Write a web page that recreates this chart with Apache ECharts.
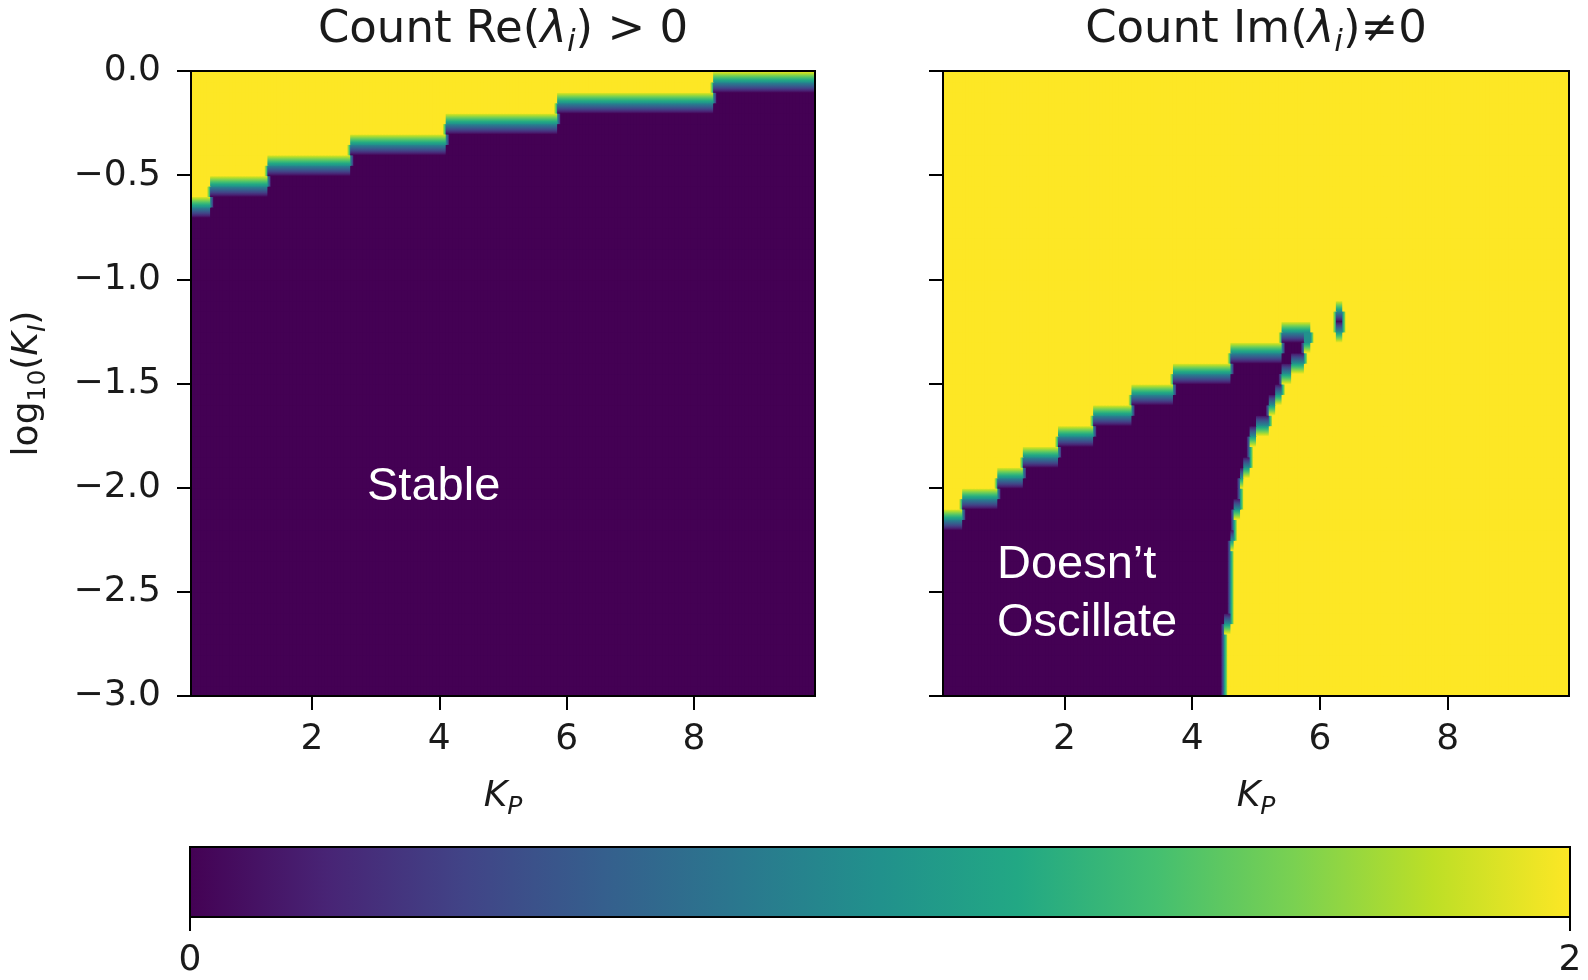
<!DOCTYPE html>
<html>
<head>
<meta charset="utf-8">
<title>Count Re / Im eigenvalues</title>
<script src="https://cdn.jsdelivr.net/npm/echarts@6/dist/echarts.min.js"></script>
<style>
  html, body { margin: 0; padding: 0; background: #fff; }
  #chart { width: 1588px; height: 980px; }
</style>
</head>
<body>
<div id="chart"></div>
<script>
// scan range and cell size (K_P, log10(K_I))
const kpRange = [0.1, 9.9];
const kiRange = [-3.0, 0.0];
const cellStep = 0.05;

// axis ticks
const kpTicks = [2, 4, 6, 8];
const kiTicks = [0, -0.5, -1, -1.5, -2, -2.5, -3];
const cbarTicks = [0, 2];

// left panel: Count Re(λi) > 0 -> 2 above the staircase, 0 below
const reKpEdges = [0.1, 0.4, 1.3, 2.6, 4.1, 5.85, 8.3, 9.9];
const reTop = [-0.65, -0.55, -0.45, -0.35, -0.25, -0.15, -0.05];

// right panel: Count Im(λi)≠0 -> 0 under the staircase and left of the right edge
const imKpEdges = [0.1, 0.4, 0.95, 1.35, 1.9, 2.45, 3.05, 3.7, 4.6, 5.4, 6.0];
const imTop = [-2.15, -2.05, -1.95, -1.85, -1.75, -1.65, -1.55, -1.45, -1.35, -1.25];
// right edge of the non oscillating zone (K_P), valid from each log10(K_I) upward
const imEdgeKi = [-3.0, -2.65, -2.25, -2.1, -1.95, -1.9, -1.75, -1.7, -1.6, -1.55, -1.45, -1.4, -1.3];
const imEdgeKp = [4.5, 4.6, 4.65, 4.75, 4.8, 4.9, 5.0, 5.2, 5.3, 5.4, 5.55, 5.75, 5.85];
// small isolated spot
const imSpotKp = [6.25, 6.35];
const imSpotKi = [-1.25, -1.15];

const viridis = ['#440154', '#482475', '#414487', '#355f8d', '#2a788e', '#21918c',
                 '#22a884', '#44bf70', '#7ad151', '#bddf26', '#fde725'];
const vMax = 2;

// cell centres
const nx = Math.round((kpRange[1] - kpRange[0]) / cellStep);
const ny = Math.round((kiRange[1] - kiRange[0]) / cellStep);
const kpCells = [], kiCells = [];
for (let i = 0; i < nx; i++) kpCells.push(+(kpRange[0] + (i + 0.5) * cellStep).toFixed(3));
for (let j = 0; j < ny; j++) kiCells.push(+(kiRange[0] + (j + 0.5) * cellStep).toFixed(3));

function stairValue(edges, vals, kp) {
    for (let i = 0; i < vals.length; i++) {
        if (kp >= edges[i] && kp < edges[i + 1]) return vals[i];
    }
    return -Infinity;
}
function edgeValue(ki) {
    let v = imEdgeKp[0];
    for (let i = 0; i < imEdgeKi.length; i++) {
        if (ki >= imEdgeKi[i]) v = imEdgeKp[i];
    }
    return v;
}

// grids [row][col], rows from bottom
const reGrid = [], imGrid = [];
for (let j = 0; j < ny; j++) {
    const ki = kiCells[j];
    const reRow = [], imRow = [];
    for (let i = 0; i < nx; i++) {
        const kp = kpCells[i];
        reRow.push(ki > stairValue(reKpEdges, reTop, kp) ? 2 : 0);
        let calm = ki < stairValue(imKpEdges, imTop, kp) && kp < edgeValue(ki);
        if (kp > imSpotKp[0] && kp < imSpotKp[1] && ki > imSpotKi[0] && ki < imSpotKi[1]) calm = true;
        imRow.push(calm ? 0 : 2);
    }
    reGrid.push(reRow);
    imGrid.push(imRow);
}

function toData(grid) {
    const out = [];
    for (let j = 0; j < ny; j++)
        for (let i = 0; i < nx; i++) out.push([kpCells[i], kiCells[j], grid[j][i]]);
    return out;
}

function cmap(v) {
    return echarts.color.lerp(Math.max(0, Math.min(1, v / vMax)), viridis);
}
// soft edge between cells, like the smoothed image of the original
function ramp(a, b, vertical) {
    const stops = [];
    for (let k = 0; k <= 5; k++) {
        stops.push({ offset: k / 5, color: cmap(a + (b - a) * k / 5) });
    }
    return vertical ? new echarts.graphic.LinearGradient(0, 0, 0, 1, stops)
                    : new echarts.graphic.LinearGradient(0, 0, 1, 0, stops);
}

function cellSeries(grid, axisIdx) {
    const half = cellStep / 2;
    return {
        type: 'custom', xAxisIndex: axisIdx, yAxisIndex: axisIdx,
        clip: true, silent: true, z: 2,
        encode: { x: 0, y: 1 },
        data: toData(grid),
        renderItem: function (params, api) {
            const idx = params.dataIndex;
            const j = Math.floor(idx / nx), i = idx % nx;
            const v = grid[j][i];
            const up = j + 1 < ny ? grid[j + 1][i] : v;
            const dn = j > 0 ? grid[j - 1][i] : v;
            const lf = i > 0 ? grid[j][i - 1] : v;
            const rt = i + 1 < nx ? grid[j][i + 1] : v;
            let fill;
            if (up !== v || dn !== v) {
                fill = ramp(up !== v ? (v + up) / 2 : v, dn !== v ? (v + dn) / 2 : v, true);
            } else if (lf !== v || rt !== v) {
                fill = ramp(lf !== v ? (v + lf) / 2 : v, rt !== v ? (v + rt) / 2 : v, false);
            } else {
                fill = cmap(v);
            }
            const p0 = api.coord([api.value(0) - half, api.value(1) + half]);
            const p1 = api.coord([api.value(0) + half, api.value(1) - half]);
            return {
                type: 'rect',
                shape: { x: p0[0], y: p0[1], width: p1[0] - p0[0] + 1, height: p1[1] - p0[1] + 1 },
                style: { fill: fill }
            };
        }
    };
}

const font = 'DejaVu Sans';
const ink = '#1a1a1a';
const mainTxt = { fontFamily: font, fontSize: 45, fontWeight: 'normal', color: ink, lineHeight: 56, verticalAlign: 'middle' };
const titleRich = {
    n: mainTxt,
    g: Object.assign({}, mainTxt, { fontStyle: 'italic' }),
    s: { fontFamily: font, fontSize: 31, fontWeight: 'normal', fontStyle: 'italic', color: ink, lineHeight: 31, verticalAlign: 'bottom' }
};
const axRich = {
    n: { fontFamily: font, fontSize: 36, color: ink, lineHeight: 46, verticalAlign: 'middle' },
    k: { fontFamily: font, fontSize: 36, fontStyle: 'italic', color: ink, lineHeight: 46, verticalAlign: 'middle' },
    s: { fontFamily: font, fontSize: 25, color: ink, lineHeight: 26, verticalAlign: 'bottom' },
    si: { fontFamily: font, fontSize: 25, fontStyle: 'italic', color: ink, lineHeight: 26, verticalAlign: 'bottom' }
};

const tick = { length: 14, lineStyle: { color: '#000', width: 2 } };
const lbl = { fontFamily: font, fontSize: 36, color: ink };

function kiLabel(v) {
    return (v < 0 ? '\u2212' : '') + Math.abs(v).toFixed(1);
}

function valueX(grid) {
    return {
        type: 'value', gridIndex: grid, min: kpRange[0], max: kpRange[1], z: 10,
        axisLine: { show: false, onZero: false }, splitLine: { show: false },
        axisTick: Object.assign({ customValues: kpTicks }, tick),
        axisLabel: Object.assign({ customValues: kpTicks, margin: 26 }, lbl),
        name: '{k|K}{si|P}', nameLocation: 'middle', nameGap: 78,
        nameTextStyle: { rich: axRich }
    };
}
function valueY(grid, withLabels) {
    return {
        type: 'value', gridIndex: grid, min: kiRange[0], max: kiRange[1], interval: 0.5, z: 10,
        axisLine: { show: false, onZero: false }, splitLine: { show: false },
        axisTick: Object.assign({ customValues: kiTicks }, tick),
        axisLabel: Object.assign({ show: withLabels, customValues: kiTicks, margin: 30, formatter: kiLabel }, lbl),
        name: withLabels ? '{n|log}{s|10}{n|(}{k|K}{si|I}{n|)}' : '',
        nameLocation: 'middle', nameRotate: 90, nameGap: 140,
        nameTextStyle: { rich: axRich }
    };
}

const chart = echarts.init(document.getElementById('chart'));
const option = {
    animation: false,
    backgroundColor: '#fff',
    title: [
        { text: '{n|Count Re(}{g|λ}{s|i}{n|) > 0}', left: 503, top: 2, padding: 0, textAlign: 'center',
          textStyle: { fontWeight: 'normal', rich: titleRich } },
        { text: '{n|Count Im(}{g|λ}{s|i}{n|)≠0}', left: 1256, top: 2, padding: 0, textAlign: 'center',
          textStyle: { fontWeight: 'normal', rich: titleRich } }
    ],
    grid: [
        { left: 191, top: 71, width: 624, height: 625, show: true, z: 10,
          backgroundColor: 'transparent', borderColor: '#000', borderWidth: 2 },
        { left: 943, top: 71, width: 626, height: 625, show: true, z: 10,
          backgroundColor: 'transparent', borderColor: '#000', borderWidth: 2 },
        { left: 190, top: 847, width: 1380, height: 70, show: true,
          backgroundColor: new echarts.graphic.LinearGradient(0, 0, 1, 0,
              viridis.map((c, i) => ({ offset: i / (viridis.length - 1), color: c }))),
          borderColor: '#000', borderWidth: 2 }
    ],
    xAxis: [
        valueX(0),
        valueX(1),
        { type: 'value', gridIndex: 2, min: 0, max: vMax, interval: 2,
          axisLine: { show: false, onZero: false }, splitLine: { show: false },
          axisTick: Object.assign({ customValues: cbarTicks }, tick),
          axisLabel: Object.assign({ customValues: cbarTicks, margin: 26 }, lbl) }
    ],
    yAxis: [
        valueY(0, true),
        valueY(1, false),
        { type: 'value', gridIndex: 2, show: false, min: 0, max: 1 }
    ],
    series: [
        cellSeries(reGrid, 0),
        cellSeries(imGrid, 1)
    ],
    graphic: [
        { type: 'text', x: 367, y: 487, z: 50,
          style: { text: 'Stable', fill: '#fff', fontSize: 47, fontFamily: '"Liberation Sans", Arial',
                   verticalAlign: 'middle' } },
        { type: 'text', x: 997, y: 565, z: 50,
          style: { text: 'Doesn\u2019t', fill: '#fff', fontSize: 47, fontFamily: '"Liberation Sans", Arial',
                   verticalAlign: 'middle' } },
        { type: 'text', x: 997, y: 623, z: 50,
          style: { text: 'Oscillate', fill: '#fff', fontSize: 47, fontFamily: '"Liberation Sans", Arial',
                   verticalAlign: 'middle' } }
    ]
};
chart.setOption(option);
</script>
</body>
</html>
